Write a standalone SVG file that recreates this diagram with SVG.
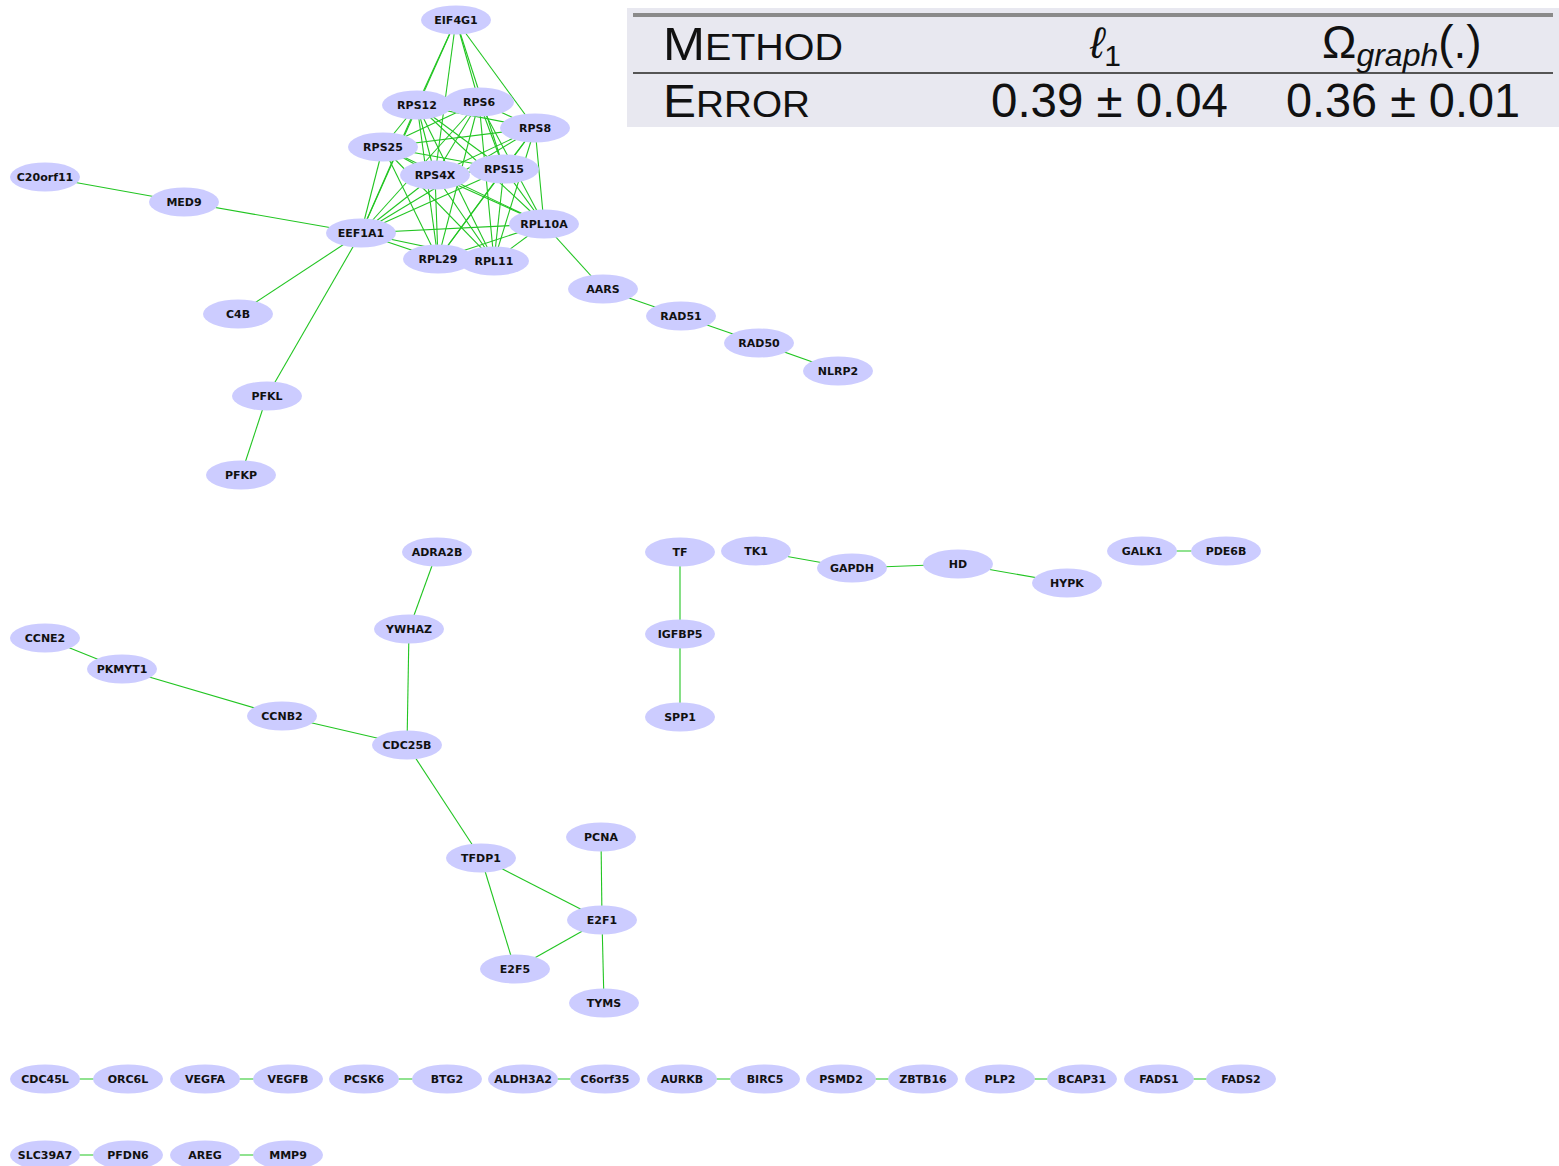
<svg xmlns="http://www.w3.org/2000/svg" width="1559" height="1166" viewBox="0 0 1559 1166">
<style>
.n ellipse{fill:#ccccff;stroke:none}
.n text{font-family:"DejaVu Sans",sans-serif;font-weight:bold;font-size:11px;fill:#111;text-anchor:middle;dominant-baseline:central}
#edges line{stroke:#22c522;stroke-width:1.1}
.t{font-family:"Liberation Sans",Arial,sans-serif;fill:#111}
</style>
<rect width="1559" height="1166" fill="#ffffff"/>
<g id="table">
<rect x="627" y="8" width="932" height="119" fill="#e8e8f0"/>
<rect x="633" y="13" width="920" height="4" fill="#8a8a8a"/>
<rect x="633" y="72" width="920" height="2" fill="#555555"/>
<text class="t" x="663" y="60" font-size="46" textLength="180" lengthAdjust="spacingAndGlyphs">M<tspan font-size="36">ETHOD</tspan></text>
<text class="t" x="663" y="117" font-size="46" textLength="147" lengthAdjust="spacingAndGlyphs">E<tspan font-size="36">RROR</tspan></text>
<text class="t" x="1090" y="58" font-size="44" font-style="italic">ℓ<tspan font-size="30" dy="8" font-style="normal">1</tspan></text>
<text class="t" x="1322" y="58" font-size="46">Ω<tspan font-size="32" font-style="italic" dy="8">graph</tspan><tspan dy="-8">(.)</tspan></text>
<text class="t" x="991" y="117" font-size="48" textLength="237" lengthAdjust="spacingAndGlyphs">0.39 ± 0.04</text>
<text class="t" x="1286" y="117" font-size="48" textLength="234" lengthAdjust="spacingAndGlyphs">0.36 ± 0.01</text>
</g>
<g id="edges">
<line x1="456" y1="20" x2="417" y2="105"/><line x1="456" y1="20" x2="479" y2="102"/><line x1="456" y1="20" x2="535" y2="128"/><line x1="456" y1="20" x2="435" y2="175"/><line x1="456" y1="20" x2="504" y2="169"/><line x1="456" y1="20" x2="361" y2="233"/>
<line x1="417" y1="105" x2="479" y2="102"/><line x1="417" y1="105" x2="535" y2="128"/><line x1="417" y1="105" x2="383" y2="147"/><line x1="417" y1="105" x2="435" y2="175"/><line x1="417" y1="105" x2="504" y2="169"/><line x1="417" y1="105" x2="544" y2="224"/><line x1="417" y1="105" x2="361" y2="233"/><line x1="417" y1="105" x2="438" y2="259"/><line x1="417" y1="105" x2="494" y2="261"/>
<line x1="479" y1="102" x2="535" y2="128"/><line x1="479" y1="102" x2="383" y2="147"/><line x1="479" y1="102" x2="435" y2="175"/><line x1="479" y1="102" x2="504" y2="169"/><line x1="479" y1="102" x2="544" y2="224"/><line x1="479" y1="102" x2="361" y2="233"/><line x1="479" y1="102" x2="438" y2="259"/><line x1="479" y1="102" x2="494" y2="261"/>
<line x1="535" y1="128" x2="383" y2="147"/><line x1="535" y1="128" x2="435" y2="175"/><line x1="535" y1="128" x2="504" y2="169"/><line x1="535" y1="128" x2="544" y2="224"/><line x1="535" y1="128" x2="361" y2="233"/><line x1="535" y1="128" x2="438" y2="259"/><line x1="535" y1="128" x2="494" y2="261"/>
<line x1="383" y1="147" x2="435" y2="175"/><line x1="383" y1="147" x2="504" y2="169"/><line x1="383" y1="147" x2="544" y2="224"/><line x1="383" y1="147" x2="361" y2="233"/><line x1="383" y1="147" x2="438" y2="259"/><line x1="383" y1="147" x2="494" y2="261"/>
<line x1="435" y1="175" x2="504" y2="169"/><line x1="435" y1="175" x2="544" y2="224"/><line x1="435" y1="175" x2="361" y2="233"/><line x1="435" y1="175" x2="438" y2="259"/><line x1="435" y1="175" x2="494" y2="261"/>
<line x1="504" y1="169" x2="544" y2="224"/><line x1="504" y1="169" x2="361" y2="233"/><line x1="504" y1="169" x2="438" y2="259"/><line x1="504" y1="169" x2="494" y2="261"/>
<line x1="544" y1="224" x2="361" y2="233"/><line x1="544" y1="224" x2="438" y2="259"/><line x1="544" y1="224" x2="494" y2="261"/>
<line x1="361" y1="233" x2="438" y2="259"/><line x1="361" y1="233" x2="494" y2="261"/>
<line x1="438" y1="259" x2="494" y2="261"/>
<line x1="45" y1="177" x2="184" y2="202"/><line x1="184" y1="202" x2="361" y2="233"/>
<line x1="361" y1="233" x2="238" y2="314"/><line x1="361" y1="233" x2="267" y2="396"/><line x1="267" y1="396" x2="241" y2="475"/>
<line x1="544" y1="224" x2="603" y2="289"/><line x1="603" y1="289" x2="681" y2="316"/><line x1="681" y1="316" x2="759" y2="343"/><line x1="759" y1="343" x2="838" y2="371"/>
<line x1="437" y1="552" x2="409" y2="629"/><line x1="409" y1="629" x2="407" y2="745"/>
<line x1="45" y1="638" x2="122" y2="669"/><line x1="122" y1="669" x2="282" y2="716"/><line x1="282" y1="716" x2="407" y2="745"/>
<line x1="407" y1="745" x2="481" y2="858"/><line x1="481" y1="858" x2="602" y2="920"/><line x1="481" y1="858" x2="515" y2="969"/><line x1="515" y1="969" x2="602" y2="920"/>
<line x1="601" y1="837" x2="602" y2="920"/><line x1="602" y1="920" x2="604" y2="1003"/>
<line x1="680" y1="552" x2="680" y2="634"/><line x1="680" y1="634" x2="680" y2="717"/>
<line x1="756" y1="551" x2="852" y2="568"/><line x1="852" y1="568" x2="958" y2="564"/><line x1="958" y1="564" x2="1067" y2="583"/>
<line x1="1142" y1="551" x2="1226" y2="551"/>
<line x1="45" y1="1079" x2="128" y2="1079"/><line x1="205" y1="1079" x2="288" y2="1079"/><line x1="364" y1="1079" x2="447" y2="1079"/><line x1="523" y1="1079" x2="605" y2="1079"/><line x1="682" y1="1079" x2="765" y2="1079"/><line x1="841" y1="1079" x2="923" y2="1079"/><line x1="1000" y1="1079" x2="1082" y2="1079"/><line x1="1159" y1="1079" x2="1241" y2="1079"/>
<line x1="45" y1="1155" x2="128" y2="1155"/><line x1="205" y1="1155" x2="288" y2="1155"/>
</g>
<g id="EIF4G1" class="n"><ellipse cx="456" cy="20" rx="35" ry="14.5"/><text x="456" y="20">EIF4G1</text></g>
<g id="RPS12" class="n"><ellipse cx="417" cy="105" rx="35" ry="14.5"/><text x="417" y="105">RPS12</text></g>
<g id="RPS6" class="n"><ellipse cx="479" cy="102" rx="35" ry="14.5"/><text x="479" y="102">RPS6</text></g>
<g id="RPS8" class="n"><ellipse cx="535" cy="128" rx="35" ry="14.5"/><text x="535" y="128">RPS8</text></g>
<g id="RPS25" class="n"><ellipse cx="383" cy="147" rx="35" ry="14.5"/><text x="383" y="147">RPS25</text></g>
<g id="RPS4X" class="n"><ellipse cx="435" cy="175" rx="35" ry="14.5"/><text x="435" y="175">RPS4X</text></g>
<g id="RPS15" class="n"><ellipse cx="504" cy="169" rx="35" ry="14.5"/><text x="504" y="169">RPS15</text></g>
<g id="RPL10A" class="n"><ellipse cx="544" cy="224" rx="35" ry="14.5"/><text x="544" y="224">RPL10A</text></g>
<g id="EEF1A1" class="n"><ellipse cx="361" cy="233" rx="35" ry="14.5"/><text x="361" y="233">EEF1A1</text></g>
<g id="RPL29" class="n"><ellipse cx="438" cy="259" rx="35" ry="14.5"/><text x="438" y="259">RPL29</text></g>
<g id="RPL11" class="n"><ellipse cx="494" cy="261" rx="35" ry="14.5"/><text x="494" y="261">RPL11</text></g>
<g id="C20orf11" class="n"><ellipse cx="45" cy="177" rx="35" ry="14.5"/><text x="45" y="177">C20orf11</text></g>
<g id="MED9" class="n"><ellipse cx="184" cy="202" rx="35" ry="14.5"/><text x="184" y="202">MED9</text></g>
<g id="C4B" class="n"><ellipse cx="238" cy="314" rx="35" ry="14.5"/><text x="238" y="314">C4B</text></g>
<g id="PFKL" class="n"><ellipse cx="267" cy="396" rx="35" ry="14.5"/><text x="267" y="396">PFKL</text></g>
<g id="PFKP" class="n"><ellipse cx="241" cy="475" rx="35" ry="14.5"/><text x="241" y="475">PFKP</text></g>
<g id="AARS" class="n"><ellipse cx="603" cy="289" rx="35" ry="14.5"/><text x="603" y="289">AARS</text></g>
<g id="RAD51" class="n"><ellipse cx="681" cy="316" rx="35" ry="14.5"/><text x="681" y="316">RAD51</text></g>
<g id="RAD50" class="n"><ellipse cx="759" cy="343" rx="35" ry="14.5"/><text x="759" y="343">RAD50</text></g>
<g id="NLRP2" class="n"><ellipse cx="838" cy="371" rx="35" ry="14.5"/><text x="838" y="371">NLRP2</text></g>
<g id="ADRA2B" class="n"><ellipse cx="437" cy="552" rx="35" ry="14.5"/><text x="437" y="552">ADRA2B</text></g>
<g id="YWHAZ" class="n"><ellipse cx="409" cy="629" rx="35" ry="14.5"/><text x="409" y="629">YWHAZ</text></g>
<g id="CCNE2" class="n"><ellipse cx="45" cy="638" rx="35" ry="14.5"/><text x="45" y="638">CCNE2</text></g>
<g id="PKMYT1" class="n"><ellipse cx="122" cy="669" rx="35" ry="14.5"/><text x="122" y="669">PKMYT1</text></g>
<g id="CCNB2" class="n"><ellipse cx="282" cy="716" rx="35" ry="14.5"/><text x="282" y="716">CCNB2</text></g>
<g id="CDC25B" class="n"><ellipse cx="407" cy="745" rx="35" ry="14.5"/><text x="407" y="745">CDC25B</text></g>
<g id="TFDP1" class="n"><ellipse cx="481" cy="858" rx="35" ry="14.5"/><text x="481" y="858">TFDP1</text></g>
<g id="PCNA" class="n"><ellipse cx="601" cy="837" rx="35" ry="14.5"/><text x="601" y="837">PCNA</text></g>
<g id="E2F1" class="n"><ellipse cx="602" cy="920" rx="35" ry="14.5"/><text x="602" y="920">E2F1</text></g>
<g id="E2F5" class="n"><ellipse cx="515" cy="969" rx="35" ry="14.5"/><text x="515" y="969">E2F5</text></g>
<g id="TYMS" class="n"><ellipse cx="604" cy="1003" rx="35" ry="14.5"/><text x="604" y="1003">TYMS</text></g>
<g id="TF" class="n"><ellipse cx="680" cy="552" rx="35" ry="14.5"/><text x="680" y="552">TF</text></g>
<g id="IGFBP5" class="n"><ellipse cx="680" cy="634" rx="35" ry="14.5"/><text x="680" y="634">IGFBP5</text></g>
<g id="SPP1" class="n"><ellipse cx="680" cy="717" rx="35" ry="14.5"/><text x="680" y="717">SPP1</text></g>
<g id="TK1" class="n"><ellipse cx="756" cy="551" rx="35" ry="14.5"/><text x="756" y="551">TK1</text></g>
<g id="GAPDH" class="n"><ellipse cx="852" cy="568" rx="35" ry="14.5"/><text x="852" y="568">GAPDH</text></g>
<g id="HD" class="n"><ellipse cx="958" cy="564" rx="35" ry="14.5"/><text x="958" y="564">HD</text></g>
<g id="HYPK" class="n"><ellipse cx="1067" cy="583" rx="35" ry="14.5"/><text x="1067" y="583">HYPK</text></g>
<g id="GALK1" class="n"><ellipse cx="1142" cy="551" rx="35" ry="14.5"/><text x="1142" y="551">GALK1</text></g>
<g id="PDE6B" class="n"><ellipse cx="1226" cy="551" rx="35" ry="14.5"/><text x="1226" y="551">PDE6B</text></g>
<g id="CDC45L" class="n"><ellipse cx="45" cy="1079" rx="35" ry="14.5"/><text x="45" y="1079">CDC45L</text></g>
<g id="ORC6L" class="n"><ellipse cx="128" cy="1079" rx="35" ry="14.5"/><text x="128" y="1079">ORC6L</text></g>
<g id="VEGFA" class="n"><ellipse cx="205" cy="1079" rx="35" ry="14.5"/><text x="205" y="1079">VEGFA</text></g>
<g id="VEGFB" class="n"><ellipse cx="288" cy="1079" rx="35" ry="14.5"/><text x="288" y="1079">VEGFB</text></g>
<g id="PCSK6" class="n"><ellipse cx="364" cy="1079" rx="35" ry="14.5"/><text x="364" y="1079">PCSK6</text></g>
<g id="BTG2" class="n"><ellipse cx="447" cy="1079" rx="35" ry="14.5"/><text x="447" y="1079">BTG2</text></g>
<g id="ALDH3A2" class="n"><ellipse cx="523" cy="1079" rx="35" ry="14.5"/><text x="523" y="1079">ALDH3A2</text></g>
<g id="C6orf35" class="n"><ellipse cx="605" cy="1079" rx="35" ry="14.5"/><text x="605" y="1079">C6orf35</text></g>
<g id="AURKB" class="n"><ellipse cx="682" cy="1079" rx="35" ry="14.5"/><text x="682" y="1079">AURKB</text></g>
<g id="BIRC5" class="n"><ellipse cx="765" cy="1079" rx="35" ry="14.5"/><text x="765" y="1079">BIRC5</text></g>
<g id="PSMD2" class="n"><ellipse cx="841" cy="1079" rx="35" ry="14.5"/><text x="841" y="1079">PSMD2</text></g>
<g id="ZBTB16" class="n"><ellipse cx="923" cy="1079" rx="35" ry="14.5"/><text x="923" y="1079">ZBTB16</text></g>
<g id="PLP2" class="n"><ellipse cx="1000" cy="1079" rx="35" ry="14.5"/><text x="1000" y="1079">PLP2</text></g>
<g id="BCAP31" class="n"><ellipse cx="1082" cy="1079" rx="35" ry="14.5"/><text x="1082" y="1079">BCAP31</text></g>
<g id="FADS1" class="n"><ellipse cx="1159" cy="1079" rx="35" ry="14.5"/><text x="1159" y="1079">FADS1</text></g>
<g id="FADS2" class="n"><ellipse cx="1241" cy="1079" rx="35" ry="14.5"/><text x="1241" y="1079">FADS2</text></g>
<g id="SLC39A7" class="n"><ellipse cx="45" cy="1155" rx="35" ry="14.5"/><text x="45" y="1155">SLC39A7</text></g>
<g id="PFDN6" class="n"><ellipse cx="128" cy="1155" rx="35" ry="14.5"/><text x="128" y="1155">PFDN6</text></g>
<g id="AREG" class="n"><ellipse cx="205" cy="1155" rx="35" ry="14.5"/><text x="205" y="1155">AREG</text></g>
<g id="MMP9" class="n"><ellipse cx="288" cy="1155" rx="35" ry="14.5"/><text x="288" y="1155">MMP9</text></g>
</svg>
